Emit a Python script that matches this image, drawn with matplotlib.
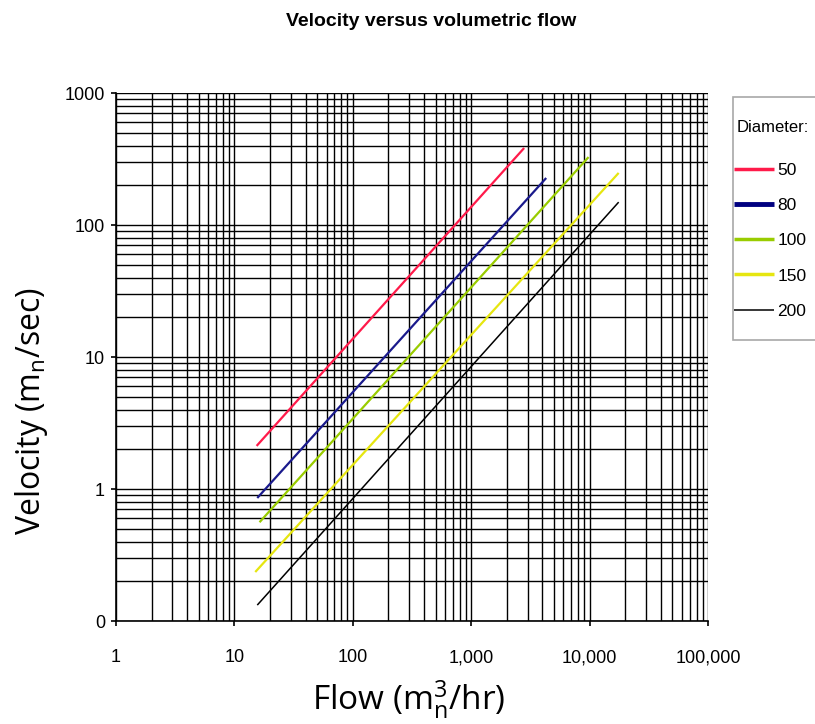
import matplotlib
matplotlib.use("Agg")
import matplotlib.pyplot as plt
from matplotlib.patches import Rectangle
from matplotlib.ticker import FixedLocator, FixedFormatter, LogLocator, NullFormatter

# ---- data (endpoints of each straight line on log-log axes) ----
diameters = ["50", "80", "100", "150", "200"]
flow_start = [15.4, 15.6, 16.3, 15.0, 15.6]          # m3n/hr
flow_end = [2800, 4300, 9800, 17600, 17600]
vel_start = [2.12, 0.855, 0.56, 0.235, 0.132]         # mn/sec
vel_end = [383, 227, 327, 248, 149]
colors = ["#ff1a4a", "#1a1a8c", "#99cc00", "#e6e610", "#000000"]
widths = [1.6, 1.6, 1.6, 1.6, 1.1]

xticks = [1, 10, 100, 1000, 10000, 100000]
xticklabels = ["1", "10", "100", "1,000", "10,000", "100,000"]
yticks = [0.1, 1, 10, 100, 1000]
yticklabels = ["0", "1", "10", "100", "1000"]

plt.rcParams["mathtext.fontset"] = "custom"
plt.rcParams["mathtext.rm"] = "Open Sans"
plt.rcParams["mathtext.it"] = "Open Sans:italic"
plt.rcParams["mathtext.bf"] = "Open Sans:bold"

tickfont = "Liberation Sans"
W, H = 815, 724
fig = plt.figure(figsize=(W / 100, H / 100), dpi=100)
ax = fig.add_axes([116 / W, 1 - 621 / H, (708 - 116) / W, (621 - 93) / H])
ax.set_xscale("log")
ax.set_yscale("log")
ax.set_xlim(1, 100000)
ax.set_ylim(0.1, 1000)

ax.xaxis.set_major_locator(FixedLocator(xticks))
ax.xaxis.set_major_formatter(FixedFormatter(xticklabels))
ax.yaxis.set_major_locator(FixedLocator(yticks))
ax.yaxis.set_major_formatter(FixedFormatter(yticklabels))
ax.xaxis.set_minor_locator(LogLocator(base=10, subs=range(2, 10)))
ax.yaxis.set_minor_locator(LogLocator(base=10, subs=range(2, 10)))
ax.xaxis.set_minor_formatter(NullFormatter())
ax.yaxis.set_minor_formatter(NullFormatter())
ax.grid(True, which="both", color="black", linewidth=1.0)
ax.set_axisbelow(True)
ax.tick_params(which="minor", length=0)
ax.tick_params(which="major", length=3.5, width=1.2, color="black", direction="out")
ax.tick_params(axis="x", which="major", pad=17)
ax.tick_params(axis="y", which="major", pad=4.5)
for lab in ax.get_xticklabels() + ax.get_yticklabels():
    lab.set_fontfamily(tickfont)
    lab.set_fontsize(13)
for s in ["top", "right"]:
    ax.spines[s].set_visible(False)
for s in ["left", "bottom"]:
    ax.spines[s].set_linewidth(1.2)

handles = []
for i, d in enumerate(diameters):
    h, = ax.plot([flow_start[i], flow_end[i]], [vel_start[i], vel_end[i]],
                 color=colors[i], linewidth=widths[i], label=d, solid_capstyle="butt")
    handles.append(h)

# legend box (extends past the right edge, as in the reference)
fig.patches.append(Rectangle((733 / W, 1 - 340 / H), 120 / W, (340 - 97) / H,
                             transform=fig.transFigure, facecolor="white",
                             edgecolor="#a8a8a8", linewidth=1.2, zorder=0))
fig.text(737 / W, 1 - 127 / H, "Diameter:", ha="left", va="center",
         fontfamily=tickfont, fontsize=12)
leg = fig.legend(handles=handles, labels=diameters,
                 loc="upper left", bbox_to_anchor=(734 / W, 1 - 163 / H),
                 frameon=False, prop={"family": tickfont, "size": 12.5},
                 labelspacing=1.15, handlelength=2.3, handletextpad=0.2,
                 borderpad=0.0, borderaxespad=0.0)
for lh in leg.legend_handles:
    lh.set_linewidth(2.5)
leg.legend_handles[4].set_linewidth(1.1)
leg.legend_handles[1].set_color("#000080")
leg.legend_handles[1].set_linewidth(3.5)

fig.text(431 / W, 1 - 22 / H, "Velocity versus volumetric flow", ha="center", va="center",
         fontfamily=tickfont, fontweight="bold", fontsize=14)
fig.text(409 / W, 1 - 700 / H, r"Flow (m$^{3}_{\mathrm{n}}$/hr)", ha="center", va="center",
         fontsize=24, fontfamily="Open Sans")
fig.text(31 / W, 1 - 411 / H, r"Velocity (m$_{\mathrm{n}}$/sec)", ha="center", va="center",
         rotation=90, fontsize=23, fontfamily="Open Sans")

fig.savefig("out.png", dpi=100, facecolor="white")
